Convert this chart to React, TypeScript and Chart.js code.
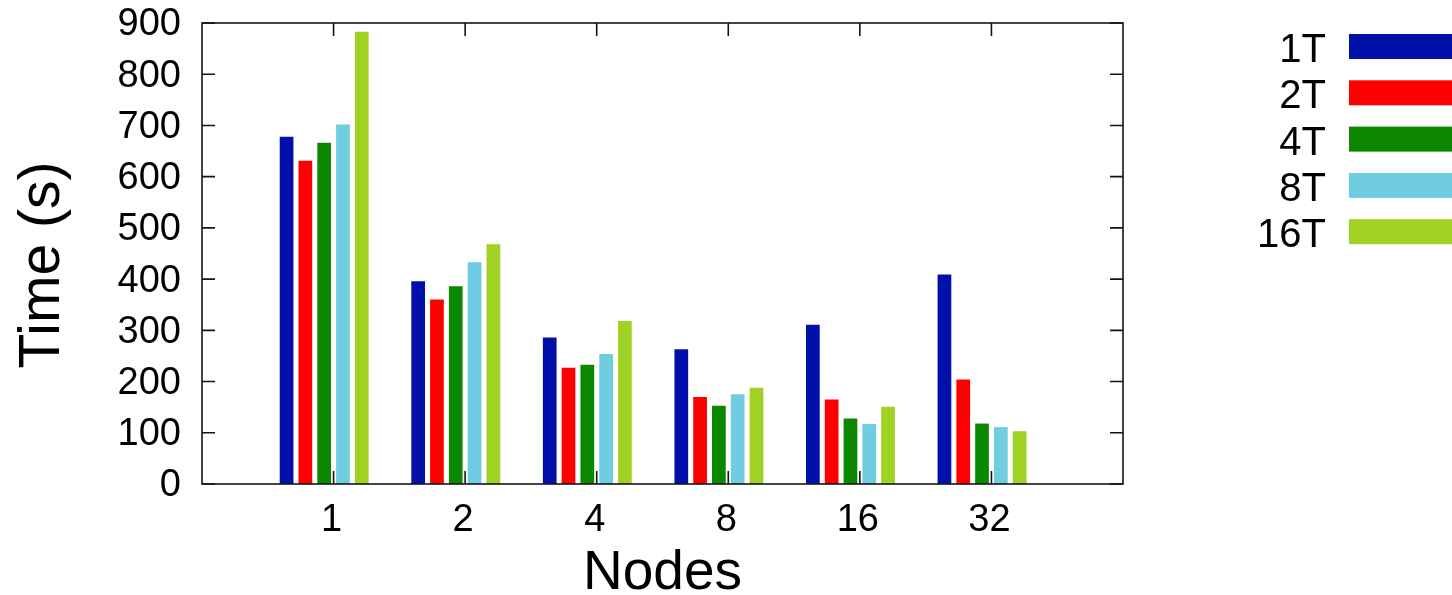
import React, { useEffect, useRef } from "react";
import { Chart, registerables } from "chart.js";

Chart.register(...registerables);

const nodeLabels = ["1", "2", "4", "8", "16", "32"];
const seriesNames = ["1T", "2T", "4T", "8T", "16T"];
const seriesColors = ["#0010a8", "#ff0000", "#0b8800", "#70cce0", "#a0d223"];
const t1 = [678, 396, 286, 263, 311, 409];
const t2 = [631, 360, 227, 170, 165, 204];
const t4 = [666, 386, 233, 153, 128, 118];
const t8 = [702, 433, 254, 175, 117, 111];
const t16 = [883, 468, 318, 188, 151, 103];
const seriesValues = [t1, t2, t4, t8, t16];
const yTicks = [0, 100, 200, 300, 400, 500, 600, 700, 800, 900];
const xTitle = "Nodes";
const yTitle = "Time (s)";

const FONT = '"Liberation Sans", Arial, Helvetica, sans-serif';

const framePlugin = {
  id: "gnuplotFrame",
  afterDraw(chart: any) {
    const { ctx, chartArea } = chart;
    const { left, right, top, bottom } = chartArea;
    const xs = chart.scales.x;
    const ys = chart.scales.y;
    ctx.save();
    ctx.strokeStyle = "#141414";
    ctx.lineWidth = 1.6;
    ctx.strokeRect(left, top, right - left, bottom - top);
    const tl = 13;
    ctx.beginPath();
    yTicks.forEach((v) => {
      const py = ys.getPixelForValue(v);
      ctx.moveTo(left, py);
      ctx.lineTo(left + tl, py);
      ctx.moveTo(right, py);
      ctx.lineTo(right - tl, py);
    });
    const labels = chart.data.labels as string[];
    labels.forEach((lab, i) => {
      if (!lab) return;
      const px = xs.getPixelForValue(i);
      ctx.moveTo(px, bottom);
      ctx.lineTo(px, bottom - tl);
      ctx.moveTo(px, top);
      ctx.lineTo(px, top + tl);
    });
    ctx.stroke();

    // axis titles
    ctx.fillStyle = "#000";
    ctx.font = `55px ${FONT}`;
    ctx.textAlign = "center";
    ctx.textBaseline = "alphabetic";
    ctx.fillText(xTitle, (left + right) / 2, 589);

    ctx.save();
    ctx.translate(59, 265);
    ctx.rotate(-Math.PI / 2);
    ctx.font = `57px ${FONT}`;
    ctx.fillText(yTitle, 0, 0);
    ctx.restore();

    // legend
    ctx.font = `40px ${FONT}`;
    ctx.textAlign = "right";
    const ds = chart.data.datasets.filter((d: any) => d.label);
    ds.forEach((d: any, i: number) => {
      const topY = 34 + i * 46.3;
      ctx.fillStyle = "#000";
      ctx.fillText(d.label, 1326, topY + 28);
      ctx.fillStyle = d.backgroundColor;
      ctx.fillRect(1349, topY, 120, 25);
    });
    ctx.restore();
  },
};

export default function App() {
  const ref = useRef<HTMLCanvasElement>(null);
  useEffect(() => {
    document.body.style.margin = "0";
    const axisLabels = ["", ...nodeLabels, ""];
    const pad = (arr: number[]) => [null, ...arr, null];
    const datasets: any[] = seriesNames.map((name, i) => ({
      label: name,
      data: pad(seriesValues[i]),
      backgroundColor: seriesColors[i],
      borderWidth: 0,
      barPercentage: 0.73,
      categoryPercentage: 6 / 7,
    }));
    // empty slot that gnuplot leaves as the cluster gap
    datasets.push({
      label: "",
      data: axisLabels.map(() => null),
      backgroundColor: "rgba(0,0,0,0)",
      borderWidth: 0,
      barPercentage: 0.73,
      categoryPercentage: 6 / 7,
    });
    const chart = new Chart(ref.current as HTMLCanvasElement, {
      type: "bar",
      data: { labels: axisLabels, datasets },
      options: {
        responsive: false,
        animation: false,
        layout: { padding: { top: 23, right: 329, left: 0, bottom: 0 } },
        plugins: { legend: { display: false }, tooltip: { enabled: false } },
        scales: {
          x: {
            type: "category",
            offset: false,
            grid: { display: false, drawTicks: false },
            border: { display: false },
            ticks: {
              autoSkip: false,
              maxRotation: 0,
              padding: 14,
              labelOffset: -2,
              color: "#000",
              font: { family: FONT, size: 38 },
            },
            afterFit(scale: any) {
              scale.height = 111;
              scale.paddingLeft = 0;
              scale.paddingRight = 0;
            },
          },
          y: {
            min: 0,
            max: 900,
            grid: { display: false, drawTicks: false },
            border: { display: false },
            ticks: {
              stepSize: 100,
              padding: 21,
              labelOffset: 2,
              color: "#000",
              font: { family: FONT, size: 38 },
            },
            afterFit(scale: any) {
              scale.width = 202;
              scale.paddingTop = 0;
              scale.paddingBottom = 0;
            },
          },
        },
      },
      plugins: [framePlugin],
    });
    return () => chart.destroy();
  }, []);
  return <canvas ref={ref} width={1452} height={595} />;
}
